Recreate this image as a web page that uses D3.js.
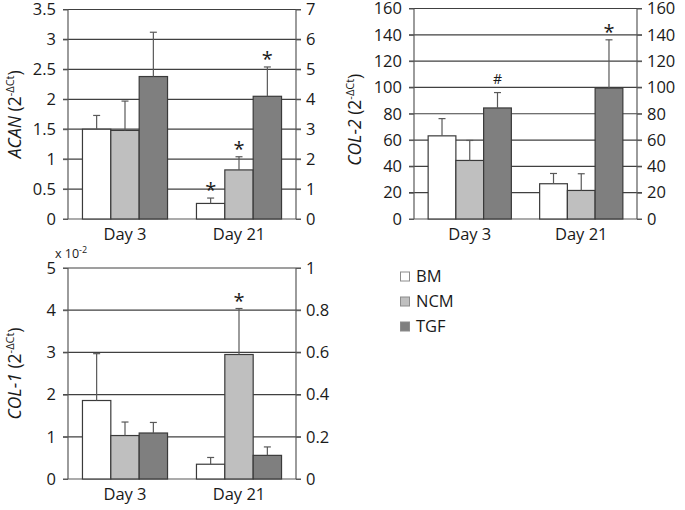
<!DOCTYPE html>
<html>
<head>
<meta charset="utf-8">
<script src="https://cdn.jsdelivr.net/npm/d3@7"></script>
<style>
  html, body { margin: 0; padding: 0; background: #fff; }
  svg { display: block; font-family: "Open Sans", sans-serif; }
</style>
</head>
<body>
<svg id="chart" width="685" height="510"></svg>
<script>
// ---------- data ----------
const days = ["Day 3", "Day 21"];
const groups = ["BM", "NCM", "TGF"];
const groupColors = ["#ffffff", "#bfbfbf", "#7f7f7f"];

// ACAN (2^-ΔCt)
const acanMean = [[1.50, 1.48, 2.38], [0.26, 0.82, 2.05]];
const acanErr  = [[0.23, 0.49, 0.74], [0.09, 0.22, 0.49]];
const acanSig  = [["", "", ""], ["*", "*", "*"]];
const acanLeftTicks  = [0, 0.5, 1, 1.5, 2, 2.5, 3, 3.5];
const acanRightTicks = [0, 1, 2, 3, 4, 5, 6, 7];

// COL-2 (2^-ΔCt)
const col2Mean = [[63.2, 44.5, 84.4], [26.8, 21.7, 99.5]];
const col2Err  = [[13.1, 15.2, 11.7], [7.8, 12.7, 36.7]];
const col2Sig  = [["", "", "#"], ["", "", "*"]];
const col2LeftTicks  = [0, 20, 40, 60, 80, 100, 120, 140, 160];
const col2RightTicks = [0, 20, 40, 60, 80, 100, 120, 140, 160];

// COL-1 (2^-ΔCt), ×10^-2
const col1Mean = [[1.86, 1.03, 1.09], [0.35, 2.95, 0.56]];
const col1Err  = [[1.11, 0.32, 0.25], [0.16, 1.09, 0.20]];
const col1Sig  = [["", "", ""], ["", "*", ""]];
const col1LeftTicks  = [0, 1, 2, 3, 4, 5];
const col1RightTicks = [0, 0.2, 0.4, 0.6, 0.8, 1];

// ---------- drawing ----------
const svg = d3.select("#chart");
const AXIS = "#595959", GRID = "#404040", BAR_STROKE = "#3a3a3a", TXT = "#1a1a1a";
const FS = 16.5;

function panel(cfg) {
  const g = svg.append("g");
  const { left, right, top, bottom } = cfg;
  const lMax = d3.max(cfg.leftTicks), rMax = d3.max(cfg.rightTicks);
  const y = d3.scaleLinear().domain([0, lMax]).range([bottom, top]);
  const yR = d3.scaleLinear().domain([0, rMax]).range([bottom, top]);
  const x0 = d3.scaleBand().domain(days).range([left, right]).padding(0);
  const x1 = d3.scaleBand().domain(groups).range([0, x0.bandwidth()]).paddingInner(0).paddingOuter(0.51);

  // gridlines (incl. baseline and top)
  g.append("g").selectAll("line").data(cfg.leftTicks).join("line")
    .attr("x1", left - 5).attr("x2", right + 5)
    .attr("y1", d => y(d)).attr("y2", d => y(d))
    .attr("stroke", d => d === 0 ? AXIS : GRID).attr("stroke-width", 1.2);

  // left axis
  const la = g.append("g").attr("transform", `translate(${left},0)`)
    .call(d3.axisLeft(y).tickValues(cfg.leftTicks).tickSize(5).tickPadding(7)
      .tickFormat(d3.format("~g")));
  la.select(".domain").remove();
  la.selectAll(".tick line").attr("stroke", AXIS);
  la.selectAll("text").attr("font-size", FS).attr("fill", TXT).attr("font-family", "Open Sans");

  const ra = g.append("g").attr("transform", `translate(${right},0)`)
    .call(d3.axisRight(yR).tickValues(cfg.rightTicks).tickSize(5).tickPadding(5)
      .tickFormat(d3.format("~g")));
  ra.select(".domain").remove();
  ra.selectAll(".tick line").attr("stroke", AXIS);
  ra.selectAll("text").attr("font-size", FS).attr("fill", TXT).attr("font-family", "Open Sans");

  // bars
  const rows = [];
  days.forEach((d, i) => groups.forEach((s, j) => rows.push({
    day: d, grp: s, j, v: cfg.mean[i][j], e: cfg.err[i][j], sig: cfg.sig[i][j]
  })));
  g.append("g").selectAll("rect").data(rows).join("rect")
    .attr("x", r => x0(r.day) + x1(r.grp))
    .attr("width", x1.bandwidth())
    .attr("y", r => y(r.v))
    .attr("height", r => bottom - y(r.v))
    .attr("fill", r => groupColors[r.j])
    .attr("stroke", BAR_STROKE).attr("stroke-width", 1.2);

  // error bars (upper only)
  const eg = g.append("g").attr("stroke", AXIS).attr("stroke-width", 1.2);
  rows.forEach(r => {
    const cx = x0(r.day) + x1(r.grp) + x1.bandwidth() / 2;
    eg.append("line").attr("x1", cx).attr("x2", cx).attr("y1", y(r.v)).attr("y2", y(r.v + r.e));
    eg.append("line").attr("x1", cx - 3.5).attr("x2", cx + 3.5).attr("y1", y(r.v + r.e)).attr("y2", y(r.v + r.e));
  });

  // significance marks
  g.append("g").selectAll("text").data(rows.filter(r => r.sig)).join("text")
    .attr("x", r => x0(r.day) + x1(r.grp) + x1.bandwidth() / 2)
    .attr("y", r => y(r.v + r.e) - (r.sig === "#" ? 9 : 1))
    .attr("text-anchor", "middle")
    .attr("font-size", r => r.sig === "#" ? 14 : 20)
    .attr("fill", TXT)
    .text(r => r.sig);

  // vertical axis lines
  g.append("line").attr("x1", left).attr("x2", left).attr("y1", top).attr("y2", bottom)
    .attr("stroke", AXIS).attr("stroke-width", 1.2);
  g.append("line").attr("x1", right).attr("x2", right).attr("y1", top).attr("y2", bottom)
    .attr("stroke", AXIS).attr("stroke-width", 1.2);

  // category labels
  g.append("g").selectAll("text").data(days).join("text")
    .attr("x", d => x0(d) + x0.bandwidth() / 2)
    .attr("y", bottom + 21)
    .attr("text-anchor", "middle").attr("font-size", FS).attr("fill", TXT)
    .text(d => d);

  // y title
  const t = g.append("text")
    .attr("transform", `translate(${cfg.titleX},${(top + bottom) / 2 + (cfg.titleDy || 0)}) rotate(-90)`)
    .attr("text-anchor", "middle").attr("font-size", 17.5).attr("fill", TXT);
  t.append("tspan").attr("font-style", "italic").text(cfg.gene);
  t.append("tspan").text(" (2");
  t.append("tspan").attr("font-size", 11).attr("dy", -7).text("-ΔCt");
  t.append("tspan").attr("dy", 7).text(")");

  return { g, y, left, top };
}

panel({ left: 68, right: 296, top: 9.5, bottom: 219,
  leftTicks: acanLeftTicks, rightTicks: acanRightTicks,
  mean: acanMean, err: acanErr, sig: acanSig, gene: "ACAN", titleX: 21 });

panel({ left: 414, right: 637, top: 8.5, bottom: 219,
  leftTicks: col2LeftTicks, rightTicks: col2RightTicks,
  mean: col2Mean, err: col2Err, sig: col2Sig, gene: "COL-2", titleX: 361, titleDy: 6 });

panel({ left: 68, right: 296, top: 268, bottom: 479,
  leftTicks: col1LeftTicks, rightTicks: col1RightTicks,
  mean: col1Mean, err: col1Err, sig: col1Sig, gene: "COL-1", titleX: 21, titleDy: 0 });

// ×10^-2 multiplier label
const m = svg.append("text").attr("x", 55).attr("y", 258).attr("font-size", 12.5).attr("fill", TXT);
m.append("tspan").text("x 10");
m.append("tspan").attr("font-size", 9).attr("dy", -5).text("-2");

// legend
const lg = svg.append("g");
groups.forEach((s, i) => {
  const yy = 272 + i * 25;
  lg.append("rect").attr("x", 400.5).attr("y", yy).attr("width", 9).attr("height", 9)
    .attr("fill", groupColors[i]).attr("stroke", "#8c8c8c").attr("stroke-width", 1);
  lg.append("text").attr("x", 416).attr("y", yy + 10).attr("font-size", FS).attr("fill", TXT).text(s);
});
</script>
</body>
</html>
